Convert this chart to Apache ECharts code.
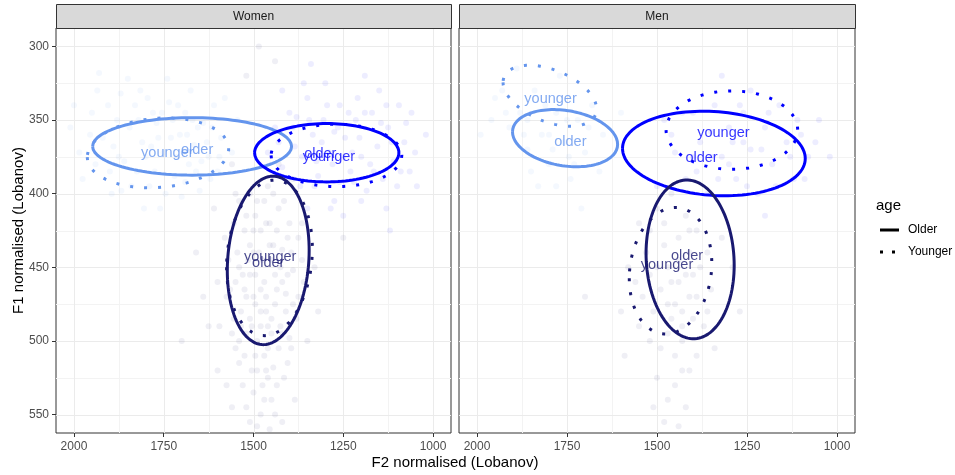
<!DOCTYPE html>
<html>
<head>
<meta charset="utf-8">
<script src="https://cdn.jsdelivr.net/npm/echarts@6/dist/echarts.min.js"></script>
<style>html,body{margin:0;padding:0;background:#fff}#c{width:955px;height:475px}</style>
</head>
<body>
<div id="c"></div>
<script>
// ---------------- data ----------------
const panels = ['Women', 'Men'];
const xTicks = [1000, 1250, 1500, 1750, 2000];
const xMinor = [1125, 1375, 1625, 1875];
const yTicks = [300, 350, 400, 450, 500, 550];
const yMinor = [325, 375, 425, 475, 525];
const ageLevels = ['Older', 'Younger'];

// ellipse summaries: panel index, vowel colour group, age, centre F2, centre F1, half-width F2, half-height F1, phase (tilt)
const ellPanel = [0, 0, 0, 0, 0, 0, 1, 1, 1, 1, 1, 1];
const ellGroup = [0, 0, 1, 1, 2, 2, 0, 0, 1, 1, 2, 2];
const ellAge   = [0, 1, 0, 1, 0, 1, 0, 1, 0, 1, 0, 1];
const ellCX    = [1671, 1766, 1296, 1269, 1459, 1455.5, 1755.4, 1797.7, 1342, 1292, 1408, 1462.4];
const ellCY    = [367.9, 372.3, 372.2, 374, 445.3, 443.6, 362.3, 333.5, 372.7, 356.8, 444.6, 452.3];
const ellA     = [277, 197, 201, 182, 114, 119.4, 146, 130, 253.8, 182.8, 122.4, 114.6];
const ellB     = [19.5, 23.7, 19.8, 21.2, 57.2, 52.8, 19.4, 20.7, 28.7, 26.6, 53.9, 43];
const ellPhi   = [0, 0.12, 0, 0, 0.12, 0.12, -0.22, -0.455, -0.12, 0, -0.075, 0.12];

// text labels at group means
const labPanel = [0, 0, 0, 0, 0, 0, 1, 1, 1, 1, 1, 1];
const labGroup = [0, 0, 1, 1, 2, 2, 0, 0, 1, 1, 2, 2];
const labText  = ['younger', 'older', 'older', 'younger', 'younger', 'older', 'younger', 'older', 'younger', 'older', 'older', 'younger'];
const labF2    = [1740, 1657, 1314, 1290, 1453.6, 1459, 1795.8, 1740.7, 1315.5, 1376.2, 1416.5, 1472.2];
const labF1    = [372.5, 370.5, 373.2, 375.4, 443.2, 447.2, 335.4, 364.8, 358.7, 375.7, 442.3, 448.4];

// raw tokens (approximate, faint background)
const wLight = [[1950,345],[1920,362],[1880,350],[1860,378],[1830,340],[1810,365],[1790,395],[1770,352],[1750,372],[1735,338],[1720,388],[1705,360],[1690,345],[1680,380],[1665,367],[1650,398],[1640,352],[1625,375],[1610,340],[1600,385],[1590,362],[1985,372],[1900,385],[1845,355],[1815,330],[1760,410],[1740,322],[1700,402],[1675,330],[1655,355],[1630,365],[1800,375],[1780,345],[1715,375],[1868,398],[1935,330],[2010,355],[1545,350],[1560,372],[1580,335],[1890,368],[1825,385],[1765,362],[1695,372],[1620,390],[1930,318],[1976,390],[1850,322],
  [1955,360],[1905,340],[1875,375],[1840,395],[1820,350],[1795,335],[1775,385],[1755,345],[1730,362],[1710,340],[1690,392],[1670,350],[1645,378],[1615,355],[1595,375],[1940,380],[1870,332],[1785,368],[1725,350],[1660,385],[2000,340],[1895,400],[1805,410],[1745,400],[1685,360]];
const wBlue = [[1440,355],[1420,382],[1400,345],[1385,368],[1370,395],[1350,335],[1335,360],[1320,388],[1305,350],[1290,372],[1275,405],[1260,340],[1245,362],[1230,385],[1215,350],[1200,375],[1185,398],[1170,345],[1155,368],[1140,390],[1125,355],[1110,378],[1095,340],[1080,365],[1065,385],[1300,325],[1250,415],[1350,410],[1190,320],[1130,410],[1060,345],[1420,330],[1275,358],[1225,372],[1325,378],[1175,380],[1380,348],[1100,395],[1050,372],[1460,372],[1340,312],[1210,335],[1150,330],[1260,392],[1020,360],[1120,425],
  [1430,365],[1405,390],[1390,355],[1365,375],[1345,350],[1330,395],[1310,365],[1295,340],[1280,380],[1265,355],[1250,375],[1235,345],[1220,392],[1205,362],[1190,345],[1165,385],[1145,352],[1115,365],[1090,385],[1075,352],[1360,325],[1285,410],[1200,405],[1130,340],[1045,395]];
const wNavy = [[1550,400],[1520,415],[1490,405],[1460,395],[1430,410],[1400,420],[1375,430],[1580,430],[1545,440],[1510,435],[1480,425],[1450,445],[1420,438],[1390,452],[1360,460],[1600,460],[1565,465],[1530,455],[1500,470],[1470,460],[1440,475],[1410,468],[1380,485],[1595,490],[1555,485],[1520,495],[1490,500],[1460,490],[1430,505],[1400,498],[1540,515],[1505,520],[1475,530],[1445,518],[1415,525],[1520,545],[1480,550],[1450,540],[1490,558],[1640,470],[1660,440],[1330,450],[1320,480],[1700,500],[1250,430],[1480,480],[1455,420],[1520,470],[1410,480],[1470,510],[1500,440],[1440,455],[1465,470],[1495,455],[1425,490],[1535,480],[1460,505],[1505,490],[1445,435],[1475,445],[1485,300],[1520,320],[1440,310],[1560,380],[1390,390],[1430,380],[1600,520],[1385,540],[1560,545],[1455,560],
  [1540,405],[1510,400],[1470,405],[1445,400],[1415,405],[1555,420],[1525,425],[1495,415],[1465,420],[1435,425],[1405,430],[1570,445],[1540,450],[1515,445],[1485,440],[1455,435],[1425,450],[1395,440],[1365,445],[1575,470],[1550,460],[1525,465],[1495,475],[1465,480],[1435,465],[1405,455],[1375,470],[1560,495],[1535,490],[1510,485],[1480,490],[1450,495],[1420,495],[1390,475],[1550,505],[1525,510],[1495,510],[1465,520],[1435,530],[1405,515],[1530,530],[1500,535],[1470,540],[1440,550],[1510,555],[1460,525],[1420,460],[1480,465],[1510,455],[1450,485],[1490,520],[1540,500],[1395,505],[1365,420],[1610,410],[1625,490],[1350,500],[1575,530],[1420,555],[1500,425]];
const mLight = [[1950,335],[1910,355],[1880,345],[1860,370],[1840,330],[1820,360],[1800,380],[1780,345],[1760,365],[1740,390],[1720,350],[1700,372],[1680,340],[1660,385],[1890,315],[1830,395],[1770,320],[1710,410],[1650,360],[1990,360],[1600,345],[1860,350],[1745,375],[1800,360],[1930,330],
  [1920,345],[1870,360],[1810,340],[1790,370],[1750,350],[1730,380],[1690,355],[1850,385],[1960,350],[1780,395]];
const mBlue = [[1480,350],[1450,372],[1420,390],[1400,345],[1380,365],[1360,400],[1340,340],[1320,375],[1300,355],[1280,390],[1260,345],[1240,370],[1220,400],[1200,355],[1180,380],[1160,340],[1140,365],[1120,390],[1100,360],[1080,375],[1050,350],[1500,395],[1320,320],[1240,330],[1200,415],[1020,375],[1300,380],[1400,375],[1350,358],[1260,365],
  [1460,360],[1430,345],[1390,385],[1350,375],[1330,390],[1290,365],[1270,340],[1250,395],[1210,370],[1190,345],[1170,395],[1130,375],[1110,350],[1090,390],[1060,365]];
const mNavy = [[1550,420],[1500,410],[1460,400],[1420,415],[1390,425],[1360,440],[1580,450],[1530,440],[1480,435],[1440,445],[1400,455],[1350,465],[1600,480],[1540,470],[1490,465],[1450,475],[1410,470],[1370,490],[1520,500],[1470,495],[1430,500],[1390,510],[1500,525],[1450,530],[1420,545],[1480,555],[1320,430],[1290,450],[1700,470],[1270,480],[1440,460],[1460,485],[1410,440],[1520,455],[1430,480],[1470,450],
  [1520,425],[1480,420],[1440,430],[1410,425],[1380,450],[1560,460],[1500,450],[1460,460],[1420,455],[1390,470],[1550,490],[1510,480],[1470,475],[1430,490],[1400,485],[1490,505],[1450,510],[1410,520],[1470,540],[1430,520],[1360,480],[1590,510],[1340,505],[1510,545],[1440,558]];
const rawPoints = [[wLight, wBlue, wNavy], [mLight, mBlue, mNavy]];

// ---------------- styles ----------------
const groupColors = ['#6495ED', '#0000FF', '#191970'];
const FONT = "'Liberation Sans', Arial, sans-serif";
const X_MIN = 950, X_MAX = 2050, Y_MIN = 287.5, Y_MAX = 562.5;
const gridBoxes = [{left: 56, top: 28, width: 395, height: 405}, {left: 459, top: 28, width: 396, height: 405}];

function ellipsePoints(i) {
  const pts = [];
  const n = 120;
  for (let k = 0; k <= n; k++) {
    const t = 2 * Math.PI * k / n;
    pts.push([ellCX[i] + ellA[i] * Math.cos(t), ellCY[i] + ellB[i] * Math.sin(t + ellPhi[i])]);
  }
  return pts;
}

const series = [];
// grid lines through the axes
[0, 1].forEach(function (p) {
  series.push({
    type: 'custom', xAxisIndex: p, yAxisIndex: p, silent: true, z: 0,
    data: [[1500, 400]],
    renderItem: function (params, api) {
      const ch = [];
      function vline(v, col, w) {
        const a = api.coord([v, Y_MIN]), b = api.coord([v, Y_MAX]);
        const x = Math.round(a[0]) + 0.5;
        ch.push({type: 'line', shape: {x1: x, y1: a[1], x2: x, y2: b[1]}, style: {stroke: col, lineWidth: w}});
      }
      function hline(v, col, w) {
        const a = api.coord([X_MIN, v]), b = api.coord([X_MAX, v]);
        const y = Math.round(a[1]) + 0.5;
        ch.push({type: 'line', shape: {x1: a[0], y1: y, x2: b[0], y2: y}, style: {stroke: col, lineWidth: w}});
      }
      xMinor.forEach(v => vline(v, '#F3F3F3', 1));
      yMinor.forEach(v => hline(v, '#F3F3F3', 1));
      xTicks.forEach(v => vline(v, '#EBEBEB', 1));
      yTicks.forEach(v => hline(v, '#EBEBEB', 1));
      return {type: 'group', children: ch};
    }
  });
});
// faint raw points
[0, 1].forEach(function (p) {
  rawPoints[p].forEach(function (pts, g) {
    series.push({
      type: 'scatter', xAxisIndex: p, yAxisIndex: p, silent: true, z: 1,
      symbolSize: 6, data: pts,
      itemStyle: {color: groupColors[g], opacity: 0.07}
    });
  });
});
// ellipses
for (let i = 0; i < ellCX.length; i++) {
  const dotted = ellAge[i] === 1;
  series.push({
    type: 'line', xAxisIndex: ellPanel[i], yAxisIndex: ellPanel[i], z: 3,
    showSymbol: false, symbol: 'none', silent: true,
    data: ellipsePoints(i),
    lineStyle: {color: groupColors[ellGroup[i]], width: 3, type: dotted ? [3, 11] : 'solid', cap: 'butt'}
  });
}
// text labels
for (let i = 0; i < labText.length; i++) {
  series.push({
    type: 'scatter', xAxisIndex: labPanel[i], yAxisIndex: labPanel[i], z: 5, silent: true,
    symbolSize: 1, itemStyle: {color: 'rgba(0,0,0,0)'},
    data: [[labF2[i], labF1[i], labText[i]]],
    label: {show: true, position: 'inside', formatter: function (pp) { return pp.data[2]; },
      color: groupColors[labGroup[i]], fontSize: 14.5, fontFamily: FONT, textBorderWidth: 0}
  });
}

const xAxes = [0, 1].map(function (p) {
  return {
    type: 'value', gridIndex: p, inverse: true, min: X_MIN, max: X_MAX,
    axisLine: {show: false},
    axisTick: {show: true, customValues: xTicks, length: 4, lineStyle: {color: '#333333', width: 1}},
    axisLabel: {customValues: xTicks, color: '#4D4D4D', fontSize: 12, margin: 8, fontFamily: FONT, formatter: function (v) { return String(v); }},
    splitLine: {show: false}
  };
});
const yAxes = [0, 1].map(function (p) {
  return {
    type: 'value', gridIndex: p, inverse: true, min: Y_MIN, max: Y_MAX,
    axisLine: {show: false},
    axisTick: {show: p === 0, customValues: yTicks, length: 4, lineStyle: {color: '#333333', width: 1}},
    axisLabel: {show: p === 0, customValues: yTicks, color: '#4D4D4D', fontSize: 12, margin: 7, fontFamily: FONT, formatter: function (v) { return String(v); }},
    splitLine: {show: false}
  };
});

const graphics = [];
panels.forEach(function (name, p) {
  const g = gridBoxes[p];
  graphics.push({type: 'rect', shape: {x: g.left + 0.5, y: 4.5, width: g.width, height: 24}, style: {fill: '#D9D9D9', stroke: '#333333', lineWidth: 1}, z: 10});
  graphics.push({type: 'text', x: g.left + g.width / 2, y: 16.5, style: {text: name, fill: '#1A1A1A', font: '12px ' + FONT, textAlign: 'center', textVerticalAlign: 'middle'}, z: 11});
});
graphics.push({type: 'text', x: 455, y: 463, style: {text: 'F2 normalised (Lobanov)', fill: '#000', font: '15px ' + FONT, textAlign: 'center', textVerticalAlign: 'middle'}});
graphics.push({type: 'text', x: 19, y: 230.5, rotation: Math.PI / 2, style: {text: 'F1 normalised (Lobanov)', fill: '#000', font: '15px ' + FONT, textAlign: 'center', textVerticalAlign: 'middle'}});
// legend
graphics.push({type: 'text', x: 876, y: 206, style: {text: 'age', fill: '#000', font: '15px ' + FONT, textAlign: 'left', textVerticalAlign: 'middle'}});
ageLevels.forEach(function (lv, k) {
  const y = 230 + k * 22;
  graphics.push({type: 'line', shape: {x1: 880, y1: y, x2: 899, y2: y}, style: {stroke: '#000', lineWidth: 3, lineDash: k === 0 ? null : [3, 9]}});
  graphics.push({type: 'text', x: 908, y: y, style: {text: lv, fill: '#000', font: '12px ' + FONT, textAlign: 'left', textVerticalAlign: 'middle'}});
});

const chart = echarts.init(document.getElementById('c'), null, {renderer: 'canvas'});
chart.setOption({
  animation: false,
  backgroundColor: '#ffffff',
  grid: gridBoxes.map(g => Object.assign({show: true, borderColor: '#333333', borderWidth: 1, backgroundColor: 'transparent', outerBoundsMode: 'none', containLabel: false}, g)),
  xAxis: xAxes,
  yAxis: yAxes,
  series: series,
  graphic: graphics
});
</script>
</body>
</html>
